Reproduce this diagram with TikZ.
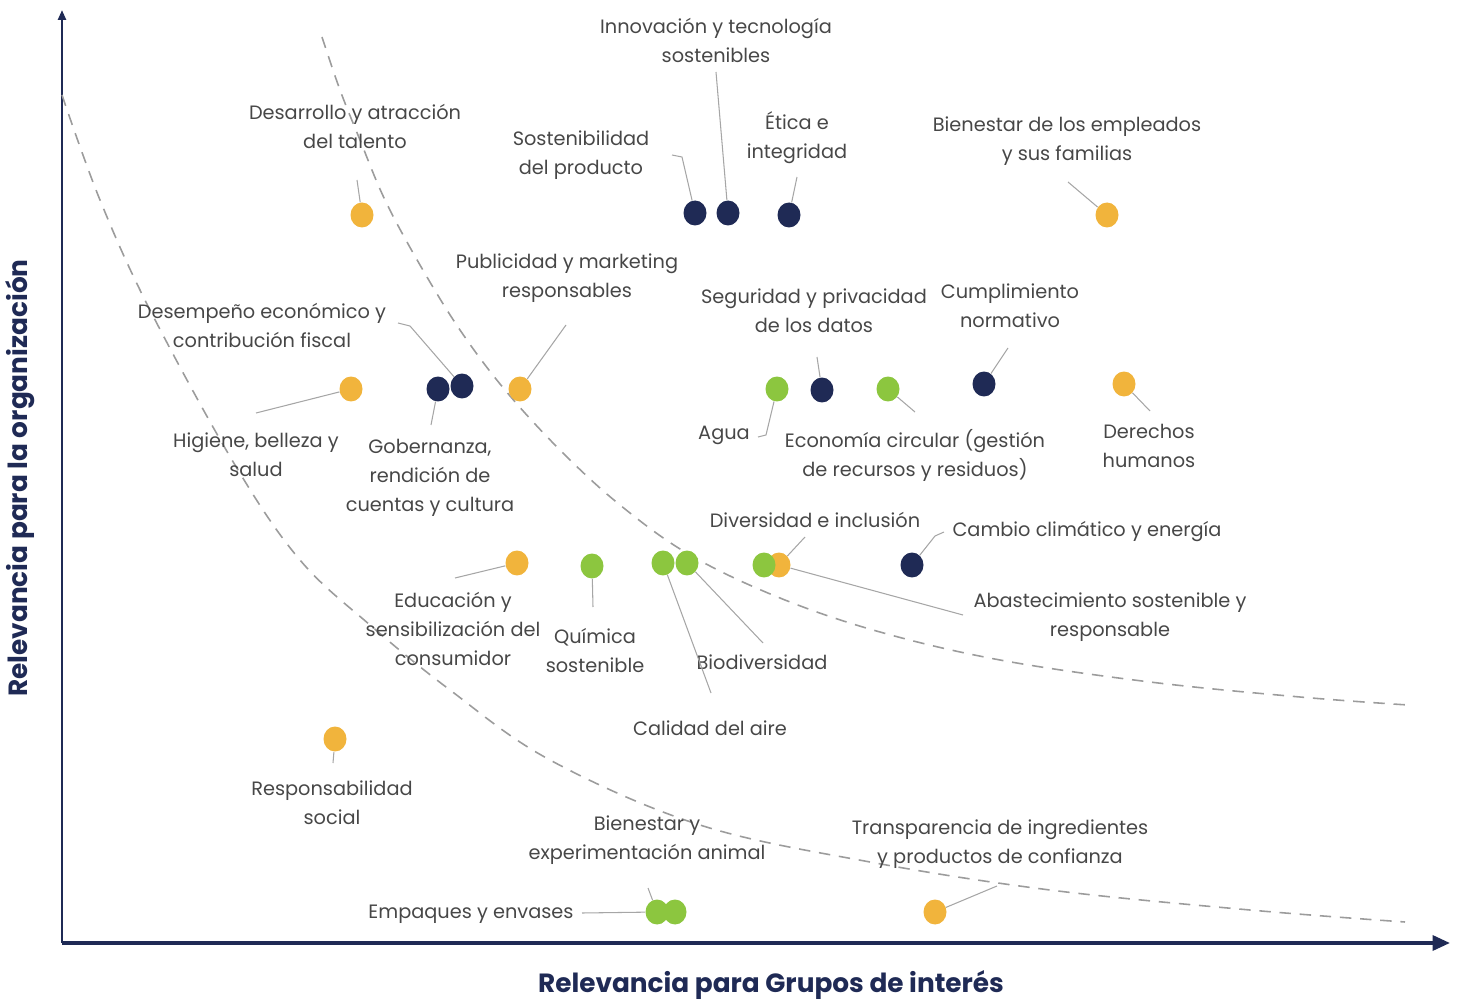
\documentclass[tikz,border=0pt]{standalone}
\usepackage{fontspec}
\setmainfont{Poppins}
\usetikzlibrary{arrows.meta, shapes.geometric}
\usepackage{xcolor}

\definecolor{azulOsc}{HTML}{1F2A55}
\definecolor{amarillo}{HTML}{F1B43C}
\definecolor{verde}{HTML}{8CC63F}
\definecolor{textoGris}{HTML}{474747}
\definecolor{lineaGris}{HTML}{A6A6A6}
\definecolor{rayaGris}{HTML}{9C9C9C}

\begin{document}
\begin{tikzpicture}[
    x=0.02cm, y=-0.02cm,
    tema/.style={ellipse, minimum width=0.46cm, minimum height=0.5cm, inner sep=0pt},
    temaY/.style={tema, fill=amarillo},
    temaN/.style={tema, fill=azulOsc},
    temaG/.style={tema, fill=verde},
    etiqueta/.style={align=center, text=textoGris, inner sep=1pt, font=\fontsize{11}{16.5}\selectfont},
    guia/.style={draw=lineaGris, line width=0.6pt},
    frontera/.style={draw=rayaGris, line width=0.9pt, dash pattern=on 6.5pt off 5pt},
    eje/.style={draw=azulOsc, line width=2pt},
    titulo/.style={text=azulOsc, font=\fontsize{15}{18}\selectfont\bfseries}
]
    \useasboundingbox (0,0) rectangle (1458,1003);

    % ejes
    \coordinate (origen) at (62,943);
    \coordinate (xfin) at (1450,943);
    \coordinate (yfin) at (62,10);
    \draw[eje, -{Triangle[length=3.5mm, width=3mm]}] (origen) -- (xfin);
    \draw[eje, line width=1.4pt, -{Triangle[length=2mm, width=1.6mm]}] (origen) -- (yfin);
    \node[titulo] (xTitulo) at (771,985) {Relevancia para Grupos de interés};
    \node[titulo, rotate=90] (yTitulo) at (20,478) {Relevancia para la organización};

    % fronteras de materialidad
    \draw[frontera] plot[smooth, tension=0.6] coordinates {(62,95) (100,200) (150,310) (235,465) (300,560) (370,625) (450,690) (550,760) (700,825) (870,862) (1050,890) (1250,910) (1405,922)};
    \draw[frontera] plot[smooth, tension=0.6] coordinates {(322,37) (340,90) (360,140) (385,200) (420,265) (460,330) (505,390) (560,450) (620,505) (690,555) (780,598) (880,632) (1000,660) (1150,682) (1300,697) (1408,705)};

    % temas
    \node[temaY] (talento) at (362,215) {};
    \node[temaN] (producto) at (695,213) {};
    \node[temaN] (innovacion) at (728,213) {};
    \node[temaN] (etica) at (789,215) {};
    \node[temaY] (empleados) at (1107,215) {};
    \node[temaY] (higiene) at (351,389) {};
    \node[temaN] (gobernanza) at (438,389) {};
    \node[temaN] (desempeno) at (462,386) {};
    \node[temaY] (publicidad) at (520,389) {};
    \node[temaG] (agua) at (777,389) {};
    \node[temaN] (datos) at (822,390) {};
    \node[temaG] (circular) at (888,389) {};
    \node[temaN] (normativo) at (984,384) {};
    \node[temaY] (derechos) at (1124,384) {};
    \node[temaY] (educacion) at (517,563) {};
    \node[temaG] (quimica) at (592,566) {};
    \node[temaG] (aire) at (663,563) {};
    \node[temaG] (biodiversidad) at (687,563) {};
    \node[temaY] (abastecimiento) at (779,565) {};
    \node[temaG] (diversidad) at (764,565) {};
    \node[temaN] (clima) at (912,565) {};
    \node[temaY] (social) at (335,739) {};
    \node[temaG] (envases) at (657,912) {};
    \node[temaG] (animal) at (675,912) {};
    \node[temaY] (transparencia) at (935,912) {};

    % etiquetas
    \node[etiqueta] (innovacionTxt) at (716,40) {Innovación y tecnología\\sostenibles};
    \node[etiqueta] (talentoTxt) at (355,126) {Desarrollo y atracción\\del talento};
    \node[etiqueta] (productoTxt) at (581,155) {Sostenibilidad\\del producto};
    \node[etiqueta] (eticaTxt) at (797,138) {Ética e\\integridad};
    \node[etiqueta] (empleadosTxt) at (1067,141) {Bienestar de los empleados\\y sus familias};
    \node[etiqueta] (publicidadTxt) at (567,278) {Publicidad y marketing\\responsables};
    \node[etiqueta] (desempenoTxt) at (262,325) {Desempeño económico y\\contribución fiscal};
    \node[etiqueta] (datosTxt) at (814,311) {Seguridad y privacidad\\de los datos};
    \node[etiqueta] (normativoTxt) at (1010,306) {Cumplimiento\\normativo};
    \node[etiqueta] (higieneTxt) at (256,455) {Higiene, belleza y\\salud};
    \node[etiqueta] (gobernanzaTxt) at (430,478) {Gobernanza,\\rendición de\\cuentas y cultura};
    \node[etiqueta] (aguaTxt) at (724,435) {Agua};
    \node[etiqueta] (circularTxt) at (915,455) {Economía circular (gestión\\de recursos y residuos)};
    \node[etiqueta] (derechosTxt) at (1149,446) {Derechos\\humanos};
    \node[etiqueta] (diversidadTxt) at (815,520) {Diversidad e inclusión};
    \node[etiqueta] (climaTxt) at (1087,532) {Cambio climático y energía};
    \node[etiqueta] (abastecimientoTxt) at (1110,617) {Abastecimiento sostenible y\\responsable};
    \node[etiqueta] (educacionTxt) at (453,629) {Educación y\\sensibilización del\\consumidor};
    \node[etiqueta] (quimicaTxt) at (595,651) {Química\\sostenible};
    \node[etiqueta] (biodiversidadTxt) at (762,662) {Biodiversidad};
    \node[etiqueta] (aireTxt) at (710,728) {Calidad del aire};
    \node[etiqueta] (socialTxt) at (332,803) {Responsabilidad\\social};
    \node[etiqueta] (animalTxt) at (647,840) {Bienestar y\\experimentación animal};
    \node[etiqueta] (transparenciaTxt) at (1000,844) {Transparencia de ingredientes\\y productos de confianza};
    \node[etiqueta] (envasesTxt) at (471,914) {Empaques y envases};

    % lineas guia
    \coordinate (gTalento) at (357,180);
    \coordinate (gInnovacion) at (716,72);
    \coordinate (gProducto) at (672,155);
    \coordinate (gEtica) at (797,177);
    \coordinate (gEmpleados) at (1068,182);
    \coordinate (gPublicidad) at (566,325);
    \coordinate (gDesempeno) at (398,323);
    \coordinate (gHigiene) at (256,413);
    \coordinate (gGobernanza) at (431,425);
    \coordinate (gDatos) at (817,357);
    \coordinate (gNormativo) at (1008,348);
    \coordinate (gAgua) at (758,437);
    \coordinate (gCircular) at (915,412);
    \coordinate (gDerechos) at (1150,411);
    \coordinate (gEducacion) at (455,578);
    \coordinate (gQuimica) at (593,607);
    \coordinate (gAire) at (711,693);
    \coordinate (gBiodiversidad) at (763,643);
    \coordinate (gDiversidad) at (805,537);
    \coordinate (gAbastecimiento) at (963,615);
    \coordinate (gClima) at (944,532);
    \coordinate (gSocial) at (333,763);
    \coordinate (gEnvases) at (582,913);
    \coordinate (gAnimal) at (648,888);
    \coordinate (gTransparencia) at (997,886);

    \draw[guia] (gTalento) -- (talento);
    \draw[guia] (gInnovacion) -- (innovacion);
    \draw[guia] (gProducto) -- ++(10,2) -- (producto);
    \draw[guia] (gEtica) -- (etica);
    \draw[guia] (gEmpleados) -- (empleados);
    \draw[guia] (gPublicidad) -- (publicidad);
    \draw[guia] (gDesempeno) -- ++(12,3) -- (desempeno);
    \draw[guia] (gHigiene) -- (higiene);
    \draw[guia] (gGobernanza) -- (gobernanza);
    \draw[guia] (gDatos) -- (datos);
    \draw[guia] (gNormativo) -- (normativo);
    \draw[guia] (gAgua) -- ++(8,-2) -- (agua);
    \draw[guia] (gCircular) -- (circular);
    \draw[guia] (gDerechos) -- (derechos);
    \draw[guia] (gEducacion) -- (educacion);
    \draw[guia] (gQuimica) -- (quimica);
    \draw[guia] (gAire) -- (aire);
    \draw[guia] (gBiodiversidad) -- (biodiversidad);
    \draw[guia] (gDiversidad) -- (abastecimiento);
    \draw[guia] (gAbastecimiento) -- (abastecimiento);
    \draw[guia] (gClima) -- ++(-9,4) -- (clima);
    \draw[guia] (gSocial) -- (social);
    \draw[guia] (gEnvases) -- (envases);
    \draw[guia] (gAnimal) -- (envases);
    \draw[guia] (gTransparencia) -- (transparencia);
\end{tikzpicture}
\end{document}
